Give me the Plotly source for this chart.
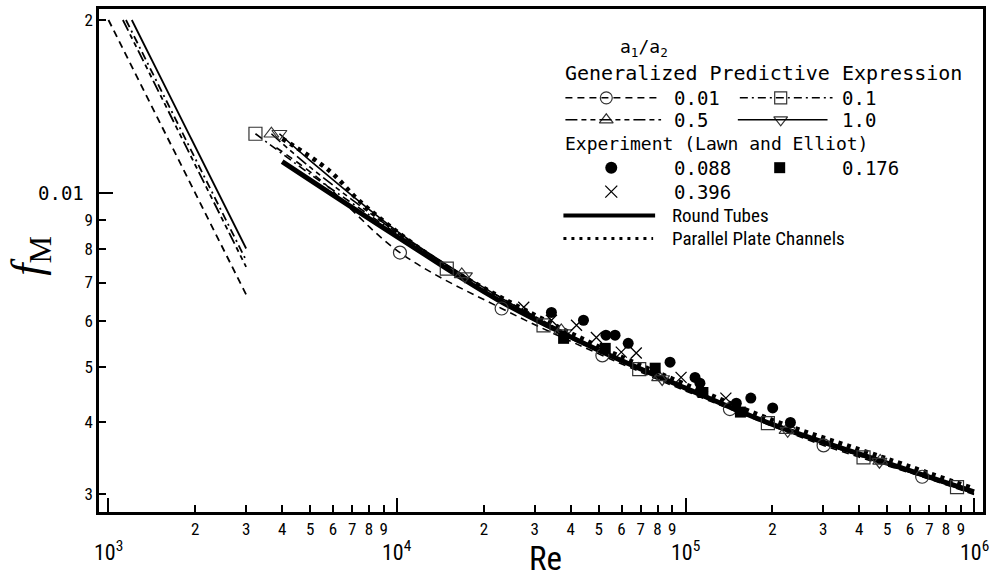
import numpy as np
import plotly.graph_objects as go

# ---------------- data ----------------
# Laminar branch of the generalized predictive expression
lam_re_001 = [1000, 3000];  lam_f_001 = [0.0200, 0.00667]
lam_re_01 = [1150, 3000];   lam_f_01 = [0.0200, 0.00765]
lam_re_05 = [1122, 3000];   lam_f_05 = [0.0200, 0.00745]
lam_re_10 = [1205, 3000];   lam_f_10 = [0.0200, 0.00802]

# Turbulent branch of the generalized predictive expression
tur_re_001 = [3820, 5300, 10240, 23050, 51500, 142500, 301000, 661000, 1000000]
tur_f_001 = [0.0120, 0.01065, 0.00789, 0.00631, 0.00523, 0.00422, 0.00365, 0.00322, 0.00300]
tur_re_01 = [3232, 5000, 10000, 14880, 32200, 69100, 193000, 414000, 873000, 1000000]
tur_f_01 = [0.01269, 0.01080, 0.00850, 0.00740, 0.00590, 0.00495, 0.00399, 0.00348, 0.00309, 0.00302]
tur_re_05 = [3670, 5000, 10000, 16770, 37100, 81000, 224000, 473000, 1000000]
tur_f_05 = [0.01269, 0.01110, 0.00855, 0.00723, 0.00578, 0.00479, 0.00388, 0.00343, 0.00302]
tur_re_10 = [3912, 5000, 10000, 17200, 38000, 83000, 226000, 470000, 1000000]
tur_f_10 = [0.01269, 0.01140, 0.00860, 0.00718, 0.00572, 0.00476, 0.00387, 0.00342, 0.00301]

# Symbols placed on the predictive curves
mk_re_001 = [10240, 23050, 51500, 142500, 301000, 661000]
mk_f_001 = [0.00789, 0.00631, 0.00523, 0.00422, 0.00365, 0.00322]
mk_re_01 = [3232, 14880, 32200, 69100, 193000, 414000, 873000]
mk_f_01 = [0.01269, 0.00740, 0.00590, 0.00495, 0.00399, 0.00348, 0.00309]
mk_re_05 = [3670, 16770, 37100, 81000, 224000, 473000]
mk_f_05 = [0.01269, 0.00723, 0.00578, 0.00479, 0.00388, 0.00343]
mk_re_10 = [3912, 17200, 38000, 83000, 226000, 470000]
mk_f_10 = [0.01269, 0.00718, 0.00572, 0.00476, 0.00387, 0.00342]

# Round tubes and parallel plate channels
rt_re = [4000, 10000, 22500, 50000, 100000, 200000, 500000, 1000000]
rt_f = [0.01135, 0.00841, 0.00652, 0.00534, 0.00459, 0.00397, 0.00340, 0.00303]
pp_re = [4006, 5823, 7391, 10410, 14300, 21300, 50000, 100000, 200000, 500000, 1000000]
pp_f = [0.01244, 0.01095, 0.00971, 0.00845, 0.00755, 0.00673, 0.00542, 0.00466, 0.00404, 0.00346, 0.00307]

# Experiment (Lawn and Elliot)
ex_re_0088 = [34300, 44300, 53000, 57000, 63300, 88400, 107900, 112200, 150000, 168400, 200500, 231000]
ex_f_0088 = [0.00621, 0.00602, 0.00567, 0.00567, 0.00549, 0.00509, 0.00479, 0.00468, 0.00432, 0.00441, 0.00424, 0.00400]
ex_re_0176 = [37800, 52700, 78500, 114900, 155000]
ex_f_0176 = [0.00560, 0.00538, 0.00497, 0.00451, 0.00417]
ex_re_0396 = [27500, 34300, 41900, 49100, 59900, 67500, 96500, 138000]
ex_f_0396 = [0.00634, 0.00602, 0.00590, 0.00562, 0.00530, 0.00528, 0.00479, 0.00441]

# Tick labels
x_minor_vals = [m * d for d in (1e3, 1e4, 1e5) for m in range(2, 10)]
x_minor_text = [str(m) for d in (1e3, 1e4, 1e5) for m in range(2, 10)]
x_major_vals = [1e3, 1e4, 1e5, 1e6]
x_major_text = ["10<sup>3</sup>", "10<sup>4</sup>", "10<sup>5</sup>", "10<sup>6</sup>"]
y_minor_vals = [0.003, 0.004, 0.005, 0.006, 0.007, 0.008, 0.009, 0.02]
y_minor_text = ["3", "4", "5", "6", "7", "8", "9", "2"]
y_major_vals = [0.01]
y_major_text = ["0.01"]

# ---------------- styling ----------------
W, H = 992, 580
L, R, T, B = 99, 6, 8, 68
PW, PH = W - L - R, H - T - B
NARROW = "Roboto Condensed, Liberation Sans Narrow, Arial Narrow, Liberation Sans, sans-serif"
MONO = "DejaVu Sans Mono, Liberation Mono, monospace"
SERIF = "Liberation Serif, DejaVu Serif, serif"
INK = "black"

DASH_001 = "7px,5px"
DASH_01 = "8px,4px,2px,4px"
DASH_05 = "12px,4px,5px,4px,5px,4px"


def px(xp):
    return (xp - L) / PW


def py(yp):
    return (H - B - yp) / PH


fig = go.Figure()

# laminar lines
for re_, f_, dash in ((lam_re_001, lam_f_001, DASH_001), (lam_re_01, lam_f_01, DASH_01),
                      (lam_re_05, lam_f_05, DASH_05), (lam_re_10, lam_f_10, "solid")):
    fig.add_trace(go.Scatter(x=re_, y=f_, mode="lines", line=dict(color=INK, width=1.8, dash=dash),
                             showlegend=False, hoverinfo="skip"))

# turbulent predictive lines
for re_, f_, dash in ((tur_re_001, tur_f_001, DASH_001), (tur_re_01, tur_f_01, DASH_01),
                      (tur_re_05, tur_f_05, DASH_05), (tur_re_10, tur_f_10, "solid")):
    fig.add_trace(go.Scatter(x=re_, y=f_, mode="lines", line=dict(color=INK, width=1.6, dash=dash, shape="spline"),
                             showlegend=False, hoverinfo="skip"))

# round tubes / parallel plates
fig.add_trace(go.Scatter(x=rt_re, y=rt_f, mode="lines", line=dict(color=INK, width=5, shape="spline"),
                         showlegend=False, hoverinfo="skip"))
fig.add_trace(go.Scatter(x=pp_re, y=pp_f, mode="lines", line=dict(color=INK, width=4.5, dash="4px,5px", shape="spline"),
                         showlegend=False, hoverinfo="skip"))

# symbols on predictive curves
for re_, f_, sym in ((mk_re_001, mk_f_001, "circle-open"), (mk_re_01, mk_f_01, "square-open"),
                     (mk_re_05, mk_f_05, "triangle-up-open"), (mk_re_10, mk_f_10, "triangle-down-open")):
    fig.add_trace(go.Scatter(x=re_, y=f_, mode="markers",
                             marker=dict(symbol=sym, size=13, color="#333", line=dict(width=1.2, color="#333")),
                             showlegend=False, hoverinfo="skip"))

# experiments
fig.add_trace(go.Scatter(x=ex_re_0088, y=ex_f_0088, mode="markers",
                         marker=dict(symbol="circle", size=11, color=INK), showlegend=False, hoverinfo="skip"))
fig.add_trace(go.Scatter(x=ex_re_0176, y=ex_f_0176, mode="markers",
                         marker=dict(symbol="square", size=11, color=INK), showlegend=False, hoverinfo="skip"))
fig.add_trace(go.Scatter(x=ex_re_0396, y=ex_f_0396, mode="markers",
                         marker=dict(symbol="x-thin-open", size=11, color=INK, line=dict(width=1.3, color=INK)),
                         showlegend=False, hoverinfo="skip"))

# ---------------- hand-built legend ----------------
shapes = []
annotations = []


def seg(x0, x1, y, dash, width=1.5):
    shapes.append(dict(type="line", xref="paper", yref="paper", x0=px(x0), x1=px(x1), y0=py(y), y1=py(y),
                       line=dict(color=INK, width=width, dash=dash)))


def txt(x, y, s, font, size, anchor="left"):
    annotations.append(dict(xref="paper", yref="paper", x=px(x), y=py(y), text=s, showarrow=False,
                            xanchor=anchor, yanchor="middle", font=dict(family=font, size=size, color=INK)))


txt(620, 47, "a<sub>1</sub>/a<sub>2</sub>", MONO, 18)
txt(565, 72, "Generalized Predictive Expression", MONO, 20)
seg(567, 663, 97, DASH_001)
txt(674, 97, "0.01", MONO, 19)
seg(742, 835, 97, DASH_01)
txt(843, 97, "0.1", MONO, 19)
seg(567, 663, 119, DASH_05)
txt(674, 119, "0.5", MONO, 19)
seg(740, 830, 119, "solid")
txt(843, 119, "1.0", MONO, 19)
txt(565, 143, "Experiment (Lawn and Elliot)", MONO, 18)
txt(674, 167, "0.088", MONO, 19)
txt(843, 167, "0.176", MONO, 19)
txt(674, 191, "0.396", MONO, 19)
seg(565, 657, 215, "solid", 4)
txt(672, 215, "Round Tubes", NARROW, 19)
seg(565, 655, 238, "3px,5px", 3)
txt(672, 238, "Parallel Plate Channels", NARROW, 19)

leg_syms = [("circle-open", 608, 97, 12), ("square-open", 783, 97, 12),
            ("triangle-up-open", 608, 119, 12), ("triangle-down-open", 783, 119, 12)]
for sym, xx, yy, sz in leg_syms:
    fig.add_trace(go.Scatter(x=[xx], y=[yy], xaxis="x2", yaxis="y2", mode="markers",
                             marker=dict(symbol=sym, size=sz, color="#333", line=dict(width=1.2, color="#333")),
                             showlegend=False, hoverinfo="skip"))
fig.add_trace(go.Scatter(x=[613], y=[167], xaxis="x2", yaxis="y2", mode="markers",
                         marker=dict(symbol="circle", size=12, color=INK), showlegend=False, hoverinfo="skip"))
fig.add_trace(go.Scatter(x=[782], y=[167], xaxis="x2", yaxis="y2", mode="markers",
                         marker=dict(symbol="square", size=11, color=INK), showlegend=False, hoverinfo="skip"))
fig.add_trace(go.Scatter(x=[613], y=[191], xaxis="x2", yaxis="y2", mode="markers",
                         marker=dict(symbol="x-thin-open", size=12, color=INK, line=dict(width=1.3, color=INK)),
                         showlegend=False, hoverinfo="skip"))

# ---------------- axis labels ----------------
for v, t in zip(x_major_vals, x_major_text):
    annotations.append(dict(xref="x", yref="paper", x=np.log10(v), y=py(551), text=t, showarrow=False,
                            xanchor="center", yanchor="middle", font=dict(family=NARROW, size=22, color=INK)))
for v, t in zip(y_major_vals, y_major_text):
    annotations.append(dict(xref="paper", yref="y", x=px(86), y=np.log10(v), text=t, showarrow=False,
                            xanchor="right", yanchor="middle", font=dict(family=MONO, size=19, color=INK)))
annotations.append(dict(xref="paper", yref="paper", x=px(547), y=py(559), text="Re", showarrow=False,
                        xanchor="center", yanchor="middle", font=dict(family=NARROW, size=33, color=INK)))
annotations.append(dict(xref="paper", yref="paper", x=px(30), y=py(255), text="<i>f</i><sub>M</sub>",
                        showarrow=False, textangle=-90, xanchor="center", yanchor="middle",
                        font=dict(family=SERIF, size=44, color=INK)))

x_lo = 3 - (108.5 - L) / 289.5
x_hi = 3 + (W - R - 108.5) / 289.5
y_hi = -2 + (192.7 - T) / 577
y_lo = -2 - (H - B - 192.7) / 577

fig.update_layout(
    width=W, height=H, margin=dict(l=L, r=R, t=T, b=B, pad=0),
    paper_bgcolor="white", plot_bgcolor="white", showlegend=False,
    shapes=shapes, annotations=annotations,
    xaxis=dict(type="log", range=[x_lo, x_hi], showline=True, linewidth=2.5, linecolor=INK, mirror=True,
               ticks="inside", ticklen=7, tickwidth=1.5, tickcolor=INK, tickmode="array",
               tickvals=x_minor_vals, ticktext=x_minor_text,
               tickfont=dict(family=NARROW, size=17, color=INK), showgrid=False, zeroline=False,
               minor=dict(tickmode="array", tickvals=x_major_vals, ticks="inside", ticklen=14,
                          tickwidth=1.5, tickcolor=INK, showgrid=False)),
    yaxis=dict(type="log", range=[y_lo, y_hi], showline=True, linewidth=2.5, linecolor=INK, mirror=True,
               ticks="inside", ticklen=7, tickwidth=1.5, tickcolor=INK, tickmode="array",
               tickvals=y_minor_vals, ticktext=y_minor_text,
               tickfont=dict(family=NARROW, size=17, color=INK), showgrid=False, zeroline=False,
               minor=dict(tickmode="array", tickvals=y_major_vals, ticks="inside", ticklen=14,
                          tickwidth=1.5, tickcolor=INK, showgrid=False)),
    xaxis2=dict(range=[L, W - R], overlaying="x", visible=False, fixedrange=True),
    yaxis2=dict(range=[H - B, T], overlaying="y", visible=False, fixedrange=True),
)

fig.write_html("out.html", config={"displayModeBar": False},
               post_script="document.body.style.margin='0px';document.body.style.overflow='hidden';")
